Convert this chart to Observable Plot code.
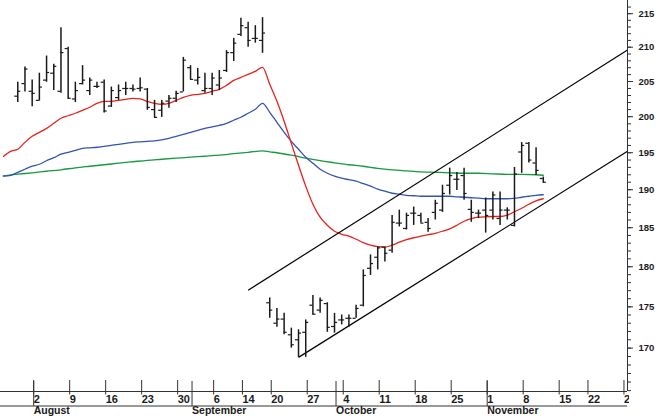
<!DOCTYPE html>
<html><head><meta charset="utf-8">
<script src="https://cdn.jsdelivr.net/npm/d3@7"></script>
<script src="https://cdn.jsdelivr.net/npm/@observablehq/plot@0.6"></script>
<style>body{margin:0;background:#fff}svg{display:block}</style>
</head><body><div id="chart"></div>
<script>
// trading-day index (0 = Aug 2)
const barDay = [-2,-1,0,1,2,3,4,5,6,7,8,9,10,11,12,13,14,15,16,17,18,19,20,21,22,23,24,25,26,27,28,29,30,31,32,
  33,34,35,36,37,38,39,40,41,42,43,44,45,46,47,48,49,50,51,52,53,54,55,56,57,58,59,60,61,62,63,64,65,66,67,68,69,70,71];
const open  = [202.9,204.7,203.6,202.3,205.2,206.2,203.6,209.8,202.5,204.7,203.7,204.3,204.9,201.5,202.7,204.0,204.0,204.0,203.9,201.0,200.9,202.2,202.6,203.5,207.0,205.2,203.7,204.0,204.5,206.6,209.2,211.9,212.9,211.3,211.0,
  175.5,173.0,173.5,171.6,171.0,171.9,175.2,174.6,175.4,172.6,173.4,173.6,173.6,175.2,179.8,181.2,182.5,182.1,185.6,184.9,186.9,186.6,185.7,187.0,187.3,190.6,191.4,191.9,187.4,186.9,187.3,187.3,186.2,187.3,185.3,195.1,196.3,193.6,191.5];
const high  = [204.9,207.1,205.2,206.2,208.7,207.5,212.9,210.0,204.9,207.3,205.5,204.9,205.2,204.2,204.5,204.9,204.5,205.5,204.0,202.3,202.3,203.0,203.6,208.5,207.3,206.9,206.2,206.2,206.6,209.5,211.3,214.3,213.7,213.2,214.4,
  176.1,174.8,174.2,172.4,172.2,173.4,176.4,176.1,175.5,174.2,174.0,174.0,175.2,179.6,181.5,182.5,182.5,186.6,187.3,186.9,187.7,186.9,186.2,188.6,190.6,192.9,192.3,192.9,188.6,187.3,188.9,189.7,189.7,187.6,193.0,196.4,196.4,195.7,191.7];
const low   = [202.0,203.5,201.4,202.2,204.9,203.7,203.3,202.5,202.0,204.5,203.0,204.0,200.5,201.3,202.3,203.0,203.5,203.5,200.9,199.8,199.9,201.2,202.0,203.5,205.2,204.5,203.3,203.0,203.7,206.3,207.9,211.6,210.0,210.6,209.1,
  173.6,172.5,171.6,170.0,168.9,168.9,174.0,174.2,171.9,171.8,172.8,172.5,173.6,175.0,178.9,179.6,180.6,181.7,185.1,184.7,185.3,185.6,184.4,186.0,187.0,189.3,189.9,188.6,185.7,186.2,184.3,186.0,185.3,186.0,185.1,192.2,193.6,191.9,190.9];
const close = [203.6,206.8,203.3,204.2,206.3,207.2,209.2,202.6,203.7,205.2,205.2,204.3,200.8,203.7,203.7,204.0,203.9,204.1,201.3,199.9,201.9,202.6,203.3,208.1,205.3,205.6,204.0,205.5,205.5,209.2,210.6,213.2,211.0,211.3,212.1,
  174.6,173.5,171.9,170.4,171.8,173.1,174.1,175.8,172.5,173.1,173.4,173.6,174.8,178.9,180.4,182.4,181.7,185.7,185.6,186.6,186.9,185.6,184.9,188.2,189.5,191.9,191.4,189.5,187.0,186.9,186.6,189.3,187.3,187.3,192.1,196.0,194.0,192.6,191.0];

// moving averages
const maDay = d3.range(-4, 72);
const maShort = [194.5,195.19,195.47,196.43,
  197.26,197.81,198.37,199.07,199.78,200.13,200.48,200.9,201.33,201.89,202.17,202.17,202.31,202.45,202.59,202.52,202.17,201.89,201.75,201.89,202.31,202.74,203.02,203.16,203.31,203.6,203.88,204.45,205.16,205.6,206.04,206.47,207.05,
  204.59,202.17,199.36,196.29,193.29,190.48,188.07,186.37,185.32,184.54,184.15,183.9,183.51,183.07,182.74,182.55,182.49,182.74,183.13,183.45,183.7,183.9,184.09,184.28,184.54,184.86,185.32,185.84,186.17,186.37,186.43,186.46,186.46,186.63,187.09,187.55,188.07,188.53,188.8];
const maMid = [191.81,191.94,192.34,192.75,
  193.16,193.43,193.91,194.32,194.8,195.06,195.33,195.61,195.68,195.75,195.88,196.02,196.16,196.29,196.43,196.5,196.57,196.64,196.78,196.99,197.26,197.54,197.81,198.09,198.37,198.58,198.79,199.07,199.5,199.92,200.48,201.04,201.89,
  200.62,199.21,197.81,196.57,195.47,194.39,193.57,192.75,192.21,191.81,191.54,191.34,191.14,190.81,190.48,190.08,189.8,189.53,189.4,189.26,189.2,189.13,189.13,189.13,189.13,189.13,189.06,189.0,188.93,188.87,188.8,188.8,188.8,188.8,188.87,189.0,189.13,189.26,189.33];
const maLongDay = [-4,-2,0,2,4,6,8,10,12,14,16,18,20,22,24,26,28,30,32,33,34,36,38,40,42,44,46,48,50,52,54,56,58,60,62,64,66,68,70,71];
const maLong = [191.87,192.08,192.27,192.48,192.68,192.95,193.16,193.36,193.57,193.77,193.97,194.11,194.25,194.39,194.52,194.66,194.87,195.06,195.26,195.12,195.0,194.66,194.25,193.91,193.63,193.36,193.16,192.88,192.68,192.54,192.41,192.34,192.27,192.21,192.21,192.14,192.07,192.07,192.01,191.94];

// trend channel (start day, start price, end price at right edge)
const channelStartDay = [30, 37];
const channelStartPrice = [177.05, 168.9];
const channelEndPrice = [209.6, 195.2];

// axis
const xMin = -4.4, xMax = 82.7;
const yMin = 164.9, yMax = 217.0;
const yMajor = [170, 175, 180, 185, 190, 195, 200, 205, 210, 215];
const yMinor = d3.range(165, 217);
const weekDay = [0,5,10,15,20,25,29,33,38,43,48,53,58,63,68,73,77,82];
const weekLabel = ["2","9","16","23","30","6","14","20","27","4","11","18","25","1","8","15","22","29"];
const monthDay = [0,22,42,63];
const monthLabel = ["August","September","October","November"];

const bars = barDay.map((d, i) => ({d, o: open[i], h: high[i], l: low[i], c: close[i]}));
const ma = (days, vals) => days.map((d, i) => ({d, v: vals[i]}));
const channel = channelStartDay.map((d, i) => ({x1: d, y1: channelStartPrice[i], x2: xMax, y2: channelEndPrice[i]}));

const chart = Plot.plot({
  width: 665, height: 416,
  marginLeft: 0, marginRight: 38, marginTop: 0, marginBottom: 25,
  style: {fontFamily: "'Liberation Sans', Arial, sans-serif", fontSize: "11px", fontWeight: "bold", color: "#1a1a1a", background: "#fff"},
  x: {domain: [xMin, xMax], axis: null},
  y: {type: "log", domain: [yMin, yMax], axis: null},
  marks: [
    Plot.line(ma(maLongDay, maLong), {x: "d", y: "v", stroke: "#17993f", strokeWidth: 1.3, curve: "monotone-x"}),
    Plot.line(ma(maDay, maMid), {x: "d", y: "v", stroke: "#3353b0", strokeWidth: 1.3, curve: "monotone-x"}),
    Plot.line(ma(maDay, maShort), {x: "d", y: "v", stroke: "#e5231c", strokeWidth: 1.3, curve: "monotone-x"}),
    Plot.link(channel, {x1: "x1", y1: "y1", x2: "x2", y2: "y2", stroke: "#000", strokeWidth: 1.2}),
    Plot.ruleX(bars, {x: "d", y1: "l", y2: "h", stroke: "#1a1a1a", strokeWidth: 1.5}),
    Plot.ruleY(bars, {y: "o", x1: d => d.d - 0.42, x2: "d", stroke: "#1a1a1a", strokeWidth: 1.2}),
    Plot.ruleY(bars, {y: "c", x1: "d", x2: d => d.d + 0.42, stroke: "#1a1a1a", strokeWidth: 1.2}),
    // right price axis
    Plot.ruleX([xMax], {stroke: "#333"}),
    Plot.axisY(yMinor, {anchor: "right", tickSize: 3, tickFormat: () => "", stroke: "#333"}),
    Plot.axisY(yMajor, {anchor: "right", tickSize: 5, tickPadding: 6, tickFormat: d => String(d), fontSize: 9.5, fontWeight: "bold", stroke: "#333"}),
    // date strip
    Plot.ruleY([yMin], {stroke: "#333"}),
    Plot.ruleY([yMin], {stroke: "#333", dy: 14.5}),
    Plot.axisX(weekDay, {anchor: "bottom", tickSize: 14.5, tickPadding: 0, dy: -11, dx: 1.5, textAnchor: "start",
      tickFormat: d => weekLabel[weekDay.indexOf(d)], fontSize: 11, fontWeight: "bold", stroke: "#333"}),
    Plot.axisX(monthDay, {anchor: "bottom", tickSize: 25, tickPadding: 0, dy: -10, dx: 1.5, textAnchor: "start",
      tickFormat: d => monthLabel[monthDay.indexOf(d)], fontSize: 10.5, fontWeight: "bold", stroke: "#333"})
  ]
});
document.getElementById("chart").append(chart);

// clip the date strip at the price axis line, as in the original
const svg = d3.select(chart);
const xs = chart.scale("x");
const clipId = "stripclip";
svg.insert("defs", ":first-child").append("clipPath").attr("id", clipId)
  .append("rect").attr("x", 0).attr("y", 0).attr("width", xs.apply(xMax)).attr("height", 416);
svg.selectAll("g[aria-label='x-axis tick label']").attr("clip-path", `url(#${clipId})`);
</script>
</body></html>
